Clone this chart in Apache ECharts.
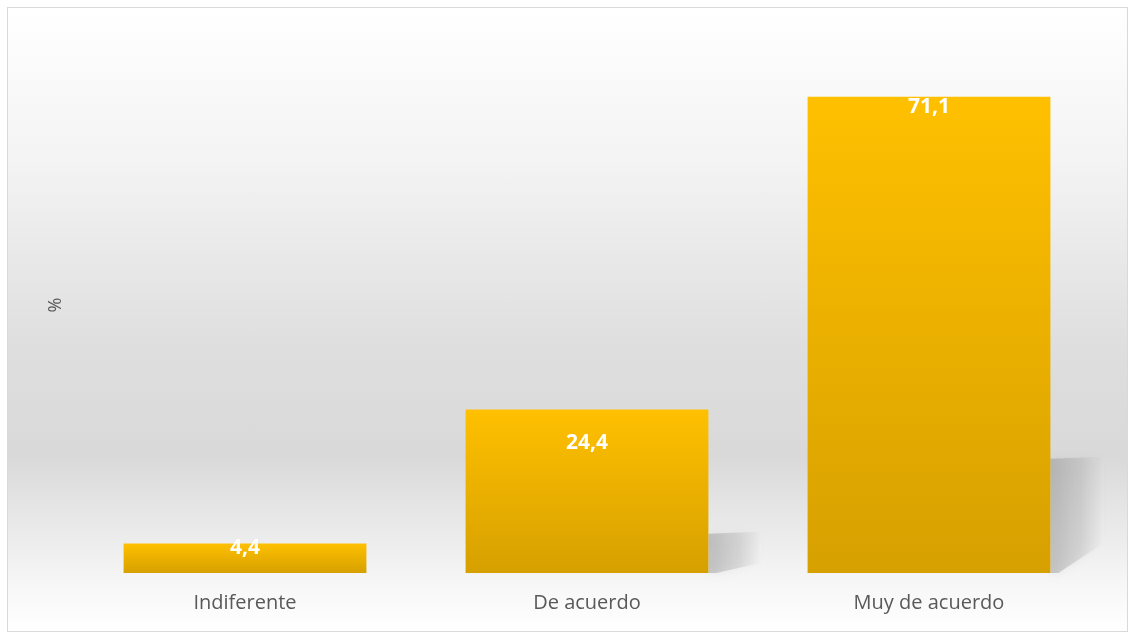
<!DOCTYPE html>
<html>
<head>
<meta charset="utf-8">
<script src="https://cdn.jsdelivr.net/npm/echarts@6/dist/echarts.min.js"></script>
<style>
  html, body { margin: 0; padding: 0; background: #fff; }
  #chart {
    position: absolute; left: 7px; top: 7px;
    width: 1121px; height: 625px;
    border: 1px solid #d9d9d9;
    box-sizing: border-box;
    background: linear-gradient(to bottom, #ffffff 0%, #f3f3f3 25%, #dedede 55%, #d9d9d9 72%, #f6f6f6 92%, #ffffff 100%);
  }
</style>
</head>
<body>
<div id="chart"></div>
<script>
// categorias y valores (%)
var categories = ["Indiferente", "De acuerdo", "Muy de acuerdo"];
var values = [4.4, 24.4, 71.1];

var chart = echarts.init(document.getElementById("chart"));

// label offsets like the excel export (px)
var labelDist = [-6, 23, 0];

chart.setOption({
  animation: false,
  grid: { left: 66, right: 27, top: 29, bottom: 58 },
  xAxis: {
    type: "category",
    data: categories,
    axisLine: { show: false },
    axisTick: { show: false },
    axisLabel: {
      color: "#595959",
      fontSize: 20,
      fontFamily: "Open Sans",
      margin: 20
    }
  },
  yAxis: {
    type: "value",
    min: 0,
    max: 80,
    name: "%",
    nameLocation: "middle",
    nameGap: 9,
    nameRotate: 90,
    nameTextStyle: { color: "#595959", fontSize: 18, fontFamily: "Open Sans" },
    axisLine: { show: false },
    axisTick: { show: false },
    axisLabel: { show: false },
    splitLine: { show: false }
  },
  series: [
    {
      // sombra proyectada a la derecha de cada barra
      type: "custom",
      z: 1,
      silent: true,
      data: values.map(function (v, i) { return [i, v]; }),
      renderItem: function (params, api) {
        var base = api.coord([api.value(0), 0]);
        var top = api.coord([api.value(0), api.value(1)]);
        var band = api.size([1, 0])[0];
        var xr = base[0] + band * 0.355;
        var barH = base[1] - top[1];
        if (barH < 60) return null;
        var h = barH * 0.24;
        var w = 51;
        var pts = [
          [xr, base[1] - h],
          [xr + w, base[1] - h - 2],
          [xr + w, base[1] - h * 0.25],
          [xr + 8, base[1]],
          [xr, base[1]]
        ];
        return {
          type: "polygon",
          shape: { points: pts },
          style: {
            fill: new echarts.graphic.LinearGradient(0, 0, 1, 0, [
              { offset: 0, color: "rgba(130,130,130,0.4)" },
              { offset: 0.6, color: "rgba(150,150,150,0.25)" },
              { offset: 1, color: "rgba(170,170,170,0.03)" }
            ]),
            shadowBlur: 10,
            shadowColor: "rgba(150,150,150,0.35)"
          }
        };
      }
    },
    {
      type: "bar",
      z: 2,
      barWidth: "71%",
      data: values.map(function (v, i) {
        return { value: v, label: { distance: labelDist[i] } };
      }),
      itemStyle: {
        color: new echarts.graphic.LinearGradient(0, 0, 0, 1, [
          { offset: 0, color: "#FFC000" },
          { offset: 1, color: "#D6A000" }
        ])
      },
      label: {
        show: true,
        position: "insideTop",
        color: "#ffffff",
        fontSize: 21,
        fontWeight: "bold",
        fontFamily: "Open Sans",
        formatter: function (p) { return String(p.value).replace(".", ","); }
      }
    }
  ]
});
</script>
</body>
</html>
